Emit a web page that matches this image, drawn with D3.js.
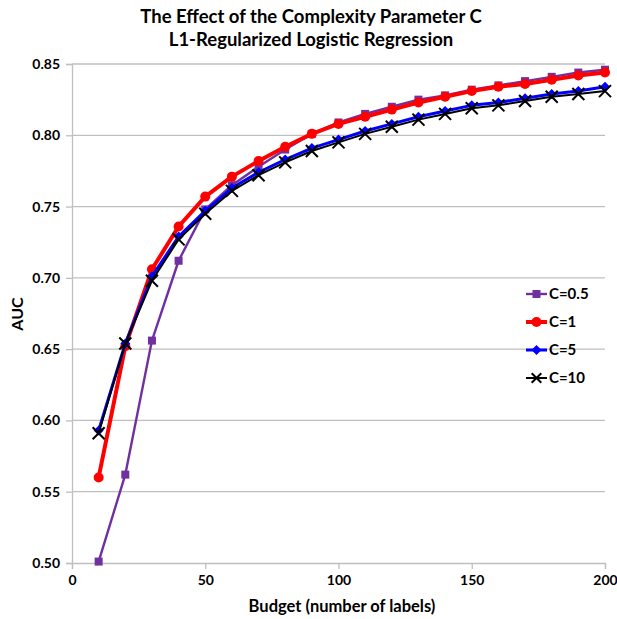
<!DOCTYPE html>
<html><head><meta charset="utf-8">
<script src="https://cdn.jsdelivr.net/npm/d3@7/dist/d3.min.js"></script>
<style>body{margin:0;background:#fff}svg{display:block}text{font-family:Lato,"Open Sans",sans-serif}</style>
</head><body>
<svg id="c" width="617" height="619"></svg>
<script>
const budgets = [10,20,30,40,50,60,70,80,90,100,110,120,130,140,150,160,170,180,190,200];
const c05 = [0.501,0.562,0.656,0.712,0.748,0.765,0.778,0.790,0.801,0.809,0.815,0.820,0.825,0.828,0.832,0.835,0.838,0.841,0.844,0.846];
const c1  = [0.560,0.652,0.706,0.736,0.757,0.771,0.782,0.792,0.801,0.808,0.813,0.818,0.823,0.827,0.831,0.834,0.836,0.839,0.842,0.844];
const c5  = [0.593,0.654,0.701,0.729,0.747,0.763,0.774,0.783,0.791,0.797,0.803,0.808,0.813,0.817,0.821,0.823,0.826,0.829,0.831,0.834];
const c10 = [0.591,0.654,0.698,0.727,0.745,0.761,0.772,0.781,0.789,0.795,0.801,0.806,0.811,0.815,0.819,0.821,0.824,0.827,0.829,0.831];
const seriesNames = ["C=0.5","C=1","C=5","C=10"];
const xTicks = [0,50,100,150,200];
const yTicks = [0.50,0.55,0.60,0.65,0.70,0.75,0.80,0.85];

const series = [
  {name:seriesNames[0], values:c05, color:"#7030A0", width:2.4, marker:"square"},
  {name:seriesNames[1], values:c1,  color:"#FF0000", width:4,   marker:"circle"},
  {name:seriesNames[2], values:c5,  color:"#0000FF", width:3,   marker:"diamond"},
  {name:seriesNames[3], values:c10, color:"#000000", width:2,   marker:"x"}
];

const svg = d3.select("#c");
const L=72, R=605, T=64, B=563;
const x = d3.scaleLinear().domain([0,200]).range([L,R]);
const y = d3.scaleLinear().domain([0.5,0.85]).range([B,T]);

svg.append("g").selectAll("line").data(yTicks.slice(1)).join("line")
  .attr("x1",L).attr("x2",R).attr("y1",d=>y(d)).attr("y2",d=>y(d))
  .attr("stroke","#bfbfbf").attr("stroke-width",1.3);

const xa = svg.append("g").attr("transform",`translate(0,${B})`)
  .call(d3.axisBottom(x).tickValues(xTicks).tickSize(6).tickPadding(6).tickFormat(d3.format("d")));
const ya = svg.append("g").attr("transform",`translate(${L},0)`)
  .call(d3.axisLeft(y).tickValues(yTicks).tickSize(6).tickPadding(6).tickFormat(d3.format(".2f")));
[xa,ya].forEach(a=>{
  a.select(".domain").attr("stroke","#bfbfbf").attr("stroke-width",1.3);
  a.selectAll(".tick line").attr("stroke","#bfbfbf").attr("stroke-width",1.3);
  a.selectAll("text").attr("font-size",14).attr("font-weight","bold").attr("fill","#000")
   .style("font-family","Lato, 'Open Sans', sans-serif");
});

const line = d3.line().x((d,i)=>x(budgets[i])).y(d=>y(d));

function drawMarker(g, type, cx, cy, color, sc){
  sc = sc||1;
  if(type==="square") g.append("rect").attr("x",cx-4*sc).attr("y",cy-4*sc).attr("width",8*sc).attr("height",8*sc).attr("fill",color);
  else if(type==="circle") g.append("circle").attr("cx",cx).attr("cy",cy).attr("r",5*sc).attr("fill",color);
  else if(type==="diamond") g.append("path").attr("d",`M${cx},${cy-5*sc}L${cx+5*sc},${cy}L${cx},${cy+5*sc}L${cx-5*sc},${cy}Z`).attr("fill",color);
  else if(type==="x"){ const r=6*sc; g.append("path").attr("d",`M${cx-r},${cy-r}L${cx+r},${cy+r}M${cx-r},${cy+r}L${cx+r},${cy-r}`).attr("stroke",color).attr("stroke-width",2);}
}

series.forEach(s=>{
  const g = svg.append("g");
  g.append("path").attr("d",line(s.values)).attr("fill","none").attr("stroke",s.color).attr("stroke-width",s.width).attr("stroke-linejoin","round");
  s.values.forEach((v,i)=>drawMarker(g,s.marker,x(budgets[i]),y(v),s.color));
});

const leg = svg.append("g");
series.forEach((s,i)=>{
  const ly = 294 + i*28;
  leg.append("line").attr("x1",526).attr("x2",547).attr("y1",ly).attr("y2",ly).attr("stroke",s.color).attr("stroke-width",s.width);
  drawMarker(leg,s.marker,536.5,ly,s.color,s.marker==="x"?0.8:1);
  leg.append("text").attr("x",549).attr("y",ly+5).attr("font-size",15).attr("font-weight","bold").text(s.name);
});

svg.append("text").attr("x",311).attr("y",23).attr("text-anchor","middle").attr("font-size",18.5).attr("font-weight","bold").text("The Effect of the Complexity Parameter C");
svg.append("text").attr("x",311).attr("y",46).attr("text-anchor","middle").attr("font-size",18.5).attr("font-weight","bold").text("L1-Regularized Logistic Regression");
svg.append("text").attr("x",342).attr("y",612).attr("text-anchor","middle").attr("font-size",16.5).attr("font-weight","bold").text("Budget (number of labels)");
svg.append("text").attr("transform","translate(23,314) rotate(-90)").attr("text-anchor","middle").attr("font-size",16).attr("font-weight","bold").text("AUC");
</script>
</body></html>
